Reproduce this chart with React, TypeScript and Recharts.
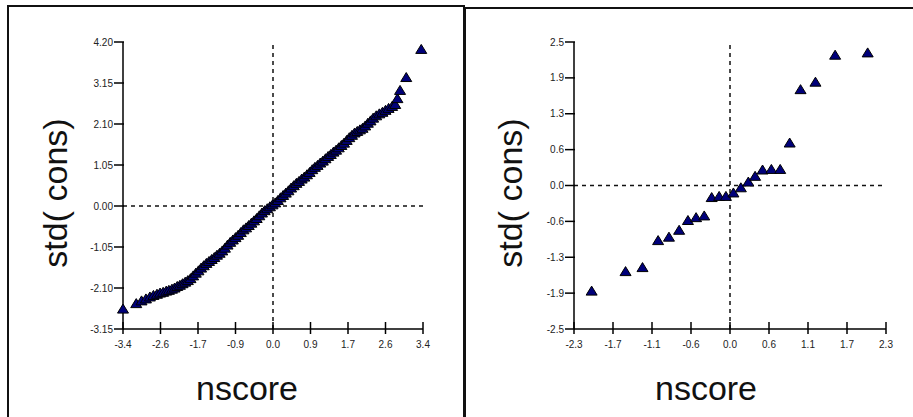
import React from "react";
import {
  ScatterChart,
  Scatter,
  XAxis,
  YAxis,
  ReferenceLine,
  Label,
} from "recharts";

// left panel: many observations
const nscoreA = [
  -3.4, -3.1, -2.98, -2.88, -2.79, -2.71, -2.63, -2.56, -2.49, -2.42, -2.36,
  -2.29, -2.23, -2.17, -2.11, -2.05, -1.99, -1.93, -1.87, -1.81, -1.75, -1.69,
  -1.63, -1.57, -1.51, -1.45, -1.39, -1.33, -1.27, -1.21, -1.15, -1.09, -1.03,
  -0.97, -0.91, -0.85, -0.79, -0.73, -0.67, -0.61, -0.55, -0.49, -0.43, -0.37,
  -0.31, -0.25, -0.19, -0.13, -0.07, -0.01, 0.05, 0.11, 0.17, 0.23, 0.29, 0.35,
  0.41, 0.47, 0.53, 0.59, 0.65, 0.71, 0.77, 0.83, 0.89, 0.95, 1.01, 1.07, 1.13,
  1.19, 1.25, 1.31, 1.37, 1.43, 1.49, 1.55, 1.61, 1.67, 1.73, 1.79, 1.85, 1.91,
  1.97, 2.03, 2.09, 2.15, 2.21, 2.27, 2.34, 2.41, 2.48, 2.55, 2.62, 2.7, 2.77,
  2.82, 2.88, 3.02, 3.36,
];
const consA = [
  -2.64, -2.5, -2.43, -2.38, -2.33, -2.29, -2.26, -2.23, -2.21, -2.18, -2.16,
  -2.13, -2.1, -2.06, -2.03, -1.99, -1.95, -1.91, -1.86, -1.79, -1.72, -1.66,
  -1.59, -1.53, -1.47, -1.42, -1.37, -1.32, -1.26, -1.21, -1.15, -1.08, -1.0,
  -0.93, -0.87, -0.81, -0.75, -0.68, -0.61, -0.56, -0.5, -0.44, -0.38, -0.32,
  -0.25, -0.18, -0.12, -0.07, -0.02, 0.03, 0.08, 0.14, 0.21, 0.27, 0.33, 0.39,
  0.46, 0.52, 0.58, 0.63, 0.69, 0.74, 0.8, 0.86, 0.93, 0.99, 1.04, 1.1, 1.15,
  1.21, 1.27, 1.32, 1.38, 1.43, 1.49, 1.55, 1.61, 1.68, 1.75, 1.81, 1.87, 1.91,
  1.95, 1.99, 2.05, 2.12, 2.18, 2.25, 2.31, 2.36, 2.4, 2.45, 2.5, 2.55, 2.6,
  2.75, 2.96, 3.29, 4.01,
];

// right panel: 24 observations
const nscoreB = [
  -2.04, -1.54, -1.29, -1.06, -0.9, -0.75, -0.62, -0.5, -0.38, -0.27, -0.16,
  -0.06, 0.05, 0.16, 0.27, 0.37, 0.48, 0.61, 0.74, 0.88, 1.04, 1.26, 1.55, 2.03,
];
const consB = [
  -1.84, -1.5, -1.43, -0.96, -0.9, -0.78, -0.61, -0.56, -0.53, -0.21, -0.19,
  -0.19, -0.13, -0.04, 0.06, 0.16, 0.27, 0.28, 0.28, 0.74, 1.67, 1.8, 2.27,
  2.31,
];

const xTicksA = [-3.4, -2.55, -1.7, -0.85, 0, 0.85, 1.7, 2.55, 3.4];
const xLabelsA = ["-3.4", "-2.6", "-1.7", "-0.9", "0.0", "0.9", "1.7", "2.6", "3.4"];
const yTicksA = [-3.15, -2.1, -1.05, 0, 1.05, 2.1, 3.15, 4.2];
const yLabelsA = ["-3.15", "-2.10", "-1.05", "0.00", "1.05", "2.10", "3.15", "4.20"];

const xTicksB = [-2.3, -1.725, -1.15, -0.575, 0, 0.575, 1.15, 1.725, 2.3];
const xLabelsB = ["-2.3", "-1.7", "-1.1", "-0.6", "0.0", "0.6", "1.1", "1.7", "2.3"];
const yTicksB = [-2.5, -1.875, -1.25, -0.625, 0, 0.625, 1.25, 1.875, 2.5];
const yLabelsB = ["-2.5", "-1.9", "-1.3", "-0.6", "0.0", "0.6", "1.3", "1.9", "2.5"];

const FONT = '"Liberation Sans", Arial, sans-serif';
const CHART_H = 417;
const Y_AXIS_W = 40;
const X_AXIS_H = 30;

const labelFor = (ticks: number[], labels: string[], v: number) => {
  const i = ticks.findIndex((t) => Math.abs(t - v) < 1e-9);
  return i >= 0 ? labels[i] : String(v);
};

// tickSize 0 / tickMargin 0: props.x / props.y sit on the axis line
const makeXTick = (ticks: number[], labels: string[]) => (props: any) => (
  <text
    x={Number(props.x)}
    y={Number(props.y) + 19}
    textAnchor="middle"
    fontSize={10}
    fill="#222"
    fontFamily={FONT}
  >
    {labelFor(ticks, labels, props.payload.value)}
  </text>
);

const makeYTick = (ticks: number[], labels: string[]) => (props: any) => (
  <text
    x={Number(props.x) - 10}
    y={Number(props.y) + 3.5}
    textAnchor="end"
    fontSize={10}
    fill="#222"
    fontFamily={FONT}
  >
    {labelFor(ticks, labels, props.payload.value)}
  </text>
);

const Triangle = (props: any) => {
  const { cx, cy } = props;
  return (
    <polygon
      points={`${cx},${cy - 5} ${cx - 5.5},${cy + 4} ${cx + 5.5},${cy + 4}`}
      fill="#00007a"
      stroke="#000"
      strokeWidth={1}
    />
  );
};

function QQPanel({
  xs,
  ys,
  xTicks,
  xLabels,
  yTicks,
  yLabels,
  width,
  margin,
  yTitleX,
  xTitleX,
}: {
  xs: number[];
  ys: number[];
  xTicks: number[];
  xLabels: string[];
  yTicks: number[];
  yLabels: string[];
  width: number;
  margin: { top: number; right: number; bottom: number; left: number };
  yTitleX: number;
  xTitleX: number;
}) {
  const data = xs.map((x, i) => ({ x, y: ys[i] }));
  const xMin = xTicks[0];
  const xMax = xTicks[xTicks.length - 1];
  const yMin = yTicks[0];
  const yMax = yTicks[yTicks.length - 1];
  // data units per screen pixel, used only for the length of the tick marks
  const plotW = width - margin.left - margin.right - Y_AXIS_W;
  const plotH = CHART_H - margin.top - margin.bottom - X_AXIS_H;
  const ux = (xMax - xMin) / plotW;
  const uy = (yMax - yMin) / plotH;

  return (
    <ScatterChart width={width} height={CHART_H} margin={margin}>
      <XAxis
        type="number"
        dataKey="x"
        domain={[xMin, xMax]}
        ticks={xTicks}
        interval={0}
        height={X_AXIS_H}
        tickSize={0}
        tickMargin={0}
        tickLine={false}
        axisLine={{ stroke: "#000", strokeWidth: 1.5 }}
        tick={makeXTick(xTicks, xLabels)}
      >
        <Label
          content={() => (
            <text x={xTitleX} y={400} textAnchor="middle" fontSize={34} fill="#111" fontFamily={FONT}>
              nscore
            </text>
          )}
        />
      </XAxis>
      <YAxis
        type="number"
        dataKey="y"
        domain={[yMin, yMax]}
        ticks={yTicks}
        interval={0}
        width={Y_AXIS_W}
        tickSize={0}
        tickMargin={0}
        tickLine={false}
        axisLine={{ stroke: "#000", strokeWidth: 1.5 }}
        tick={makeYTick(yTicks, yLabels)}
      >
        <Label
          content={() => (
            <text
              x={yTitleX}
              y={193}
              transform={`rotate(-90 ${yTitleX} 193)`}
              textAnchor="middle"
              dominantBaseline="central"
              fontSize={34}
              fill="#111"
              fontFamily={FONT}
            >
              std( cons)
            </text>
          )}
        />
      </YAxis>
      <ReferenceLine x={0} stroke="#111" strokeDasharray="4 4" strokeWidth={1.5} />
      <ReferenceLine y={0} stroke="#111" strokeDasharray="4 4" strokeWidth={1.5} />
      {xTicks.map((t) => (
        <ReferenceLine
          key={`xt${t}`}
          segment={[
            { x: t, y: yMin - 5 * uy },
            { x: t, y: yMin + 7 * uy },
          ]}
          ifOverflow="visible"
          stroke="#000"
          strokeWidth={1.5}
        />
      ))}
      {yTicks.map((t) => (
        <ReferenceLine
          key={`yt${t}`}
          segment={[
            { x: xMin - 9 * ux, y: t },
            { x: xMin + 1 * ux, y: t },
          ]}
          ifOverflow="visible"
          stroke="#000"
          strokeWidth={1.5}
        />
      ))}
      <Scatter data={data} shape={Triangle} isAnimationActive={false} />
    </ScatterChart>
  );
}

export default function App() {
  return (
    <div
      style={{
        position: "absolute",
        left: 0,
        top: 0,
        width: 913,
        height: 417,
        overflow: "hidden",
        background: "#fff",
      }}
    >
      <div
        style={{
          position: "absolute",
          left: 7,
          top: 5,
          width: 454,
          height: 430,
          borderLeft: "2px solid #111",
          borderTop: "2px solid #111",
          borderRight: "2px solid #111",
        }}
      />
      <div
        style={{
          position: "absolute",
          left: 465,
          top: 7,
          width: 460,
          height: 430,
          borderLeft: "1px solid #111",
          borderTop: "2px solid #111",
        }}
      />
      <div style={{ position: "absolute", left: 0, top: 0 }}>
        <QQPanel
          xs={nscoreA}
          ys={consA}
          xTicks={xTicksA}
          xLabels={xLabelsA}
          yTicks={yTicksA}
          yLabels={yLabelsA}
          width={460}
          margin={{ top: 42, right: 37, bottom: 58, left: 83 }}
          yTitleX={55}
          xTitleX={247}
        />
      </div>
      <div style={{ position: "absolute", left: 460, top: 0 }}>
        <QQPanel
          xs={nscoreB}
          ys={consB}
          xTicks={xTicksB}
          xLabels={xLabelsB}
          yTicks={yTicksB}
          yLabels={yLabelsB}
          width={453}
          margin={{ top: 42, right: 27, bottom: 58, left: 74 }}
          yTitleX={50}
          xTitleX={246}
        />
      </div>
    </div>
  );
}
